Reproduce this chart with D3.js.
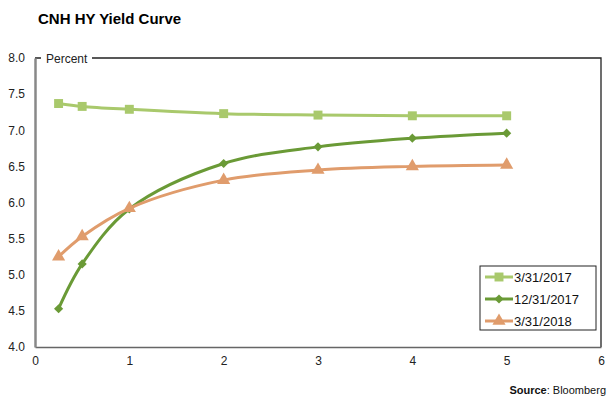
<!DOCTYPE html>
<meta charset="utf-8">
<style>
    body { margin: 0; background: #fff; }
    text { font-family: "Liberation Sans", Arial, sans-serif; }
    .tick text { font-size: 11px; fill: #222; }
    .title { font-size: 15px; font-weight: bold; }
    .line { fill: none; stroke-width: 3px; }
</style>
<svg id="f" width="608" height="401"></svg>
<script src="https://cdn.jsdelivr.net/npm/d3@7"></script>
<script>
    // tenor in years
    var tenors = [0.25, 0.5, 1, 2, 3, 4, 5];
    var seriesNames = ["3/31/2017", "12/31/2017", "3/31/2018"];
    var y2017q1 = [7.37, 7.33, 7.29, 7.23, 7.21, 7.20, 7.20];
    var y2017q4 = [4.53, 5.15, 5.91, 6.54, 6.77, 6.89, 6.96];
    var y2018q1 = [5.25, 5.53, 5.92, 6.31, 6.45, 6.50, 6.52];
    var xTicks = [0, 1, 2, 3, 4, 5, 6];
    var yTicks = [4.0, 4.5, 5.0, 5.5, 6.0, 6.5, 7.0, 7.5, 8.0];

    var colors = ["#a9c96c", "#6a9a36", "#e09c6c"];
    var shapes = [d3.symbolSquare, d3.symbolSquare, d3.symbolTriangle];
    var sizes = [80, 42, 75];
    var rotations = [0, 45, 0];

    var svg = d3.select("#f"),
        margin = { top: 58, right: 7, bottom: 54, left: 35 },
        width = svg.attr("width") - margin.left - margin.right,
        height = svg.attr("height") - margin.top - margin.bottom,
        g = svg.append("g").attr("transform", "translate(" + margin.left + "," + margin.top + ")");

    var x = d3.scaleLinear().domain([0, 6]).range([0, width]),
        y = d3.scaleLinear().domain([4, 8]).range([height, 0]);

    svg.append("text").attr("class", "title")
        .attr("x", 38).attr("y", 24)
        .text("CNH HY Yield Curve");

    // frame: top and right borders
    g.append("path")
        .attr("d", "M0,0H" + width + "V" + height)
        .attr("fill", "none").attr("stroke", "#222").attr("stroke-width", 1.3);
    g.append("rect").attr("x", 6).attr("y", -8).attr("width", 51).attr("height", 16).attr("fill", "#fff");
    g.append("text").attr("x", 11).attr("y", 4.5)
        .style("font-size", "12px").attr("fill", "#222")
        .text("Percent");

    var xAxis = g.append("g")
        .attr("transform", "translate(0," + height + ")")
        .call(d3.axisBottom(x).tickValues(xTicks).tickSize(0).tickPadding(9).tickFormat(d3.format("d")));
    xAxis.select(".domain").attr("stroke", "#666").attr("stroke-width", 1.5);
    xAxis.selectAll(".tick text").style("font-size", "12px");

    var yAxis = g.append("g")
        .call(d3.axisLeft(y).tickValues(yTicks).tickSize(0).tickPadding(10).tickFormat(d3.format(".1f")));
    yAxis.select(".domain").attr("stroke", "#888").attr("stroke-width", 2.5);
    yAxis.selectAll(".tick text").style("font-size", "12px");

    var line = d3.line()
        .curve(d3.curveCatmullRom.alpha(0.5))
        .x(function (d) { return x(d.t); })
        .y(function (d) { return y(d.v); });

    var series = [y2017q1, y2017q4, y2018q1].map(function (vals, i) {
        return {
            name: seriesNames[i],
            values: vals.map(function (v, j) { return { t: tenors[j], v: v }; })
        };
    });

    var s = g.selectAll(".series").data(series).enter().append("g").attr("class", "series");
    s.append("path").attr("class", "line")
        .attr("d", function (d) { return line(d.values); })
        .style("stroke", function (d, i) { return colors[i]; });
    s.each(function (d, i) {
        d3.select(this).selectAll(".pt").data(d.values).enter().append("path")
            .attr("class", "pt")
            .attr("transform", function (p) { return "translate(" + x(p.t) + "," + y(p.v) + ") rotate(" + rotations[i] + ")"; })
            .attr("d", d3.symbol().type(shapes[i]).size(sizes[i]))
            .attr("fill", colors[i]);
    });

    // legend
    var lg = svg.append("g").attr("transform", "translate(480,266)");
    lg.append("rect").attr("width", 116).attr("height", 64)
        .attr("fill", "#fff").attr("stroke", "#222").attr("stroke-width", 1);
    var item = lg.selectAll(".legend").data(series).enter().append("g")
        .attr("class", "legend")
        .attr("transform", function (d, i) { return "translate(0," + (11 + i * 22) + ")"; });
    item.append("line").attr("x1", 5).attr("x2", 33)
        .attr("stroke", function (d, i) { return colors[i]; }).attr("stroke-width", 3);
    item.append("path").attr("transform", function (d, i) { return "translate(19,0) rotate(" + rotations[i] + ")"; })
        .attr("d", function (d, i) { return d3.symbol().type(shapes[i]).size(sizes[i])(); })
        .attr("fill", function (d, i) { return colors[i]; });
    item.append("text").attr("x", 34).attr("y", 4.5)
        .style("font-size", "13px").attr("fill", "#111")
        .text(function (d) { return d.name; });

    var src = svg.append("text").attr("x", 606).attr("y", 394)
        .attr("text-anchor", "end").style("font-size", "11px").attr("fill", "#111");
    src.append("tspan").style("font-weight", "bold").text("Source");
    src.append("tspan").text(": Bloomberg");
</script>
